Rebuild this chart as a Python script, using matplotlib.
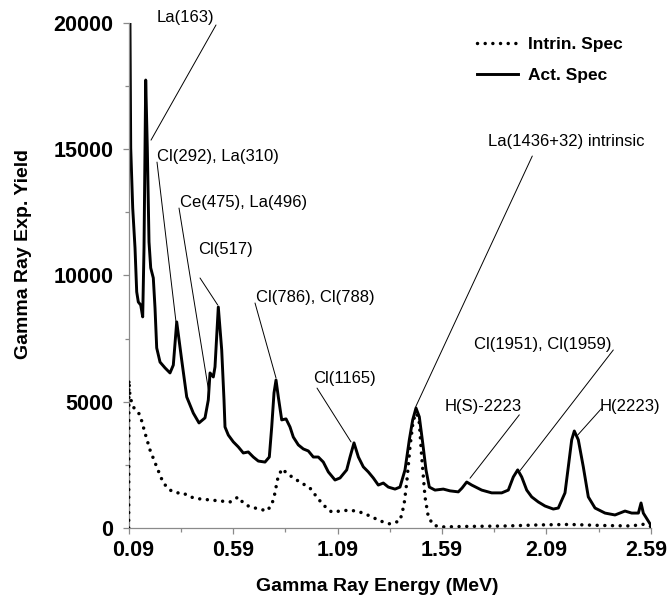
import matplotlib
matplotlib.use('Agg')
import matplotlib.pyplot as plt
from matplotlib.ticker import MultipleLocator
from matplotlib.font_manager import FontProperties
from matplotlib.transforms import ScaledTranslation

# ---------------- data ----------------
act_energy = [0.096, 0.0996, 0.1092, 0.1202, 0.1283, 0.136, 0.1475, 0.157, 0.1633, 0.1714,
              0.1791, 0.1872, 0.1954, 0.2078, 0.216, 0.2241, 0.24, 0.2639, 0.2878, 0.3036,
              0.3199, 0.3438, 0.3678, 0.3994, 0.4267, 0.4554, 0.4712, 0.4794, 0.4952, 0.5033,
              0.5191, 0.5354, 0.5464, 0.5512, 0.567, 0.591, 0.6149, 0.6388, 0.6628, 0.6867,
              0.7107, 0.7428, 0.7634, 0.7749, 0.7859, 0.7955, 0.8065, 0.8228, 0.8434, 0.8625,
              0.8783, 0.9023, 0.9262, 0.9502, 0.9741, 0.9981, 1.022, 1.046, 1.078, 1.102,
              1.134, 1.15, 1.169, 1.19, 1.2136, 1.2375, 1.2615, 1.2854, 1.3094, 1.3333,
              1.3654, 1.3893, 1.4133, 1.4339, 1.4501, 1.4659, 1.4818, 1.498, 1.5138, 1.5297,
              1.5569, 1.5967, 1.6288, 1.6685, 1.6863, 1.7088, 1.7327, 1.7806, 1.8285, 1.8764,
              1.908, 1.932, 1.953, 1.9722, 1.9962, 2.0201, 2.0517, 2.0838, 2.1235, 2.1475,
              2.1795, 2.1954, 2.2116, 2.2241, 2.2433, 2.2672, 2.2912, 2.3233, 2.3712, 2.419,
              2.4669, 2.499, 2.531, 2.5437, 2.5546, 2.59]
act_yield = [20000, 15050, 12670, 11090, 9350, 8950, 8830, 8360, 11090, 17740,
             15050, 11330, 10300, 9900, 8710, 7130, 6570, 6340, 6140, 6450,
             8160, 6650, 5190, 4550, 4160, 4360, 5070, 6140, 5980, 6380,
             8750, 7050, 5070, 4000, 3680, 3410, 3210, 2970, 3010, 2810,
             2650, 2610, 2810, 4000, 5350, 5860, 5190, 4280, 4320, 4000,
             3600, 3290, 3130, 3050, 2810, 2810, 2610, 2220, 1900, 1980,
             2300, 2810, 3370, 2810, 2420, 2220, 1980, 1700, 1780, 1620,
             1540, 1620, 2300, 3490, 4280, 4750, 4400, 3370, 2300, 1620,
             1500, 1540, 1470, 1430, 1580, 1820, 1700, 1500, 1390, 1390,
             1500, 2020, 2300, 2020, 1500, 1230, 1030, 870, 750, 790,
             1390, 2420, 3490, 3840, 3490, 2420, 1230, 790, 590, 515,
             670, 590, 590, 990, 590, 120]

intr_energy = [0.09, 0.091, 0.0962, 0.112, 0.1441, 0.1681, 0.192, 0.2241, 0.2557, 0.2878,
               0.3199, 0.35, 0.3836, 0.4315, 0.4794, 0.5273, 0.5752, 0.6149, 0.6388, 0.671,
               0.7188, 0.7509, 0.7749, 0.7907, 0.8017, 0.8228, 0.8467, 0.8783, 0.9185, 0.9583,
               0.9904, 1.022, 1.0622, 1.102, 1.1499, 1.1978, 1.2457, 1.2936, 1.3414, 1.3893,
               1.4085, 1.4214, 1.4372, 1.453, 1.4693, 1.4818, 1.4933, 1.5091, 1.5249, 1.5488,
               1.5809, 1.7, 1.9, 2.05, 2.2, 2.35, 2.5, 2.55, 2.59]
intr_yield = [0, 5860, 5190, 4790, 4480, 3760, 3090, 2420, 1780, 1500,
              1390, 1390, 1230, 1150, 1110, 1070, 1030, 1230, 990, 830,
              750, 670, 910, 1390, 1900, 2340, 2180, 1980, 1780, 1580,
              1230, 910, 630, 670, 710, 630, 475, 280, 160, 280,
              910, 1780, 3210, 4280, 4550, 4160, 2810, 1230, 440, 120,
              40, 60, 80, 120, 140, 100, 80, 150, 60]

series_labels = ['Intrin. Spec', 'Act. Spec']
xtick_values = [0.09, 0.59, 1.09, 1.59, 2.09, 2.59]
xtick_labels = ['0.09', '0.59', '1.09', '1.59', '2.09', '2.59']
ytick_values = [0, 5000, 10000, 15000, 20000]
ytick_labels = ['0', '5000', '10000', '15000', '20000']
x_title = 'Gamma Ray Energy (MeV)'
y_title = 'Gamma Ray Exp. Yield'

peak_labels = ['La(163)', 'Cl(292), La(310)', 'Ce(475), La(496)', 'Cl(517)',
               'Cl(786), Cl(788)', 'Cl(1165)', 'La(1436+32) intrinsic', 'H(S)-2223',
               'Cl(1951), Cl(1959)', 'H(2223)']

# ---------------- layout (annotation placement, data coords) ----------------
label_pos = [(0.2255, 20200), (0.2255, 14730), (0.3357, 12870), (0.4219, 11010),
             (0.6995, 9140), (0.9737, 5900), (1.8094, 15320), (1.6048, 4830),
             (1.7438, 7250), (2.3474, 4800)]
line_start = [(0.5081, 19920), (0.2255, 14490), (0.3309, 12670), (0.4315, 9900),
              (0.6949, 8910), (0.9919, 5540), (2.0229, 14730), (1.9607, 4480),
              (2.4109, 7050), (2.3553, 4740)]
line_end = [(0.1968, 15360), (0.3165, 8160), (0.476, 5270), (0.5162, 8830),
            (0.7955, 5940), (1.1547, 3410), (1.4645, 4800), (1.7246, 1970),
            (1.964, 2270), (2.2404, 3680)]

# ---------------- plot ----------------
FAM = ['Liberation Sans', 'DejaVu Sans']
plt.rcParams['font.family'] = FAM

fig = plt.figure(figsize=(6.7, 5.98), dpi=100)
ax = fig.add_axes([0.1921, 0.1171, 0.7791, 0.8445])

h_intr, = ax.plot(intr_energy, intr_yield, color='black', lw=2.5,
                  linestyle=(0, (0.01, 2.2)), dash_capstyle='round',
                  label=series_labels[0], zorder=3)
h_act, = ax.plot(act_energy, act_yield, color='black', lw=2.1,
                 solid_joinstyle='round', label=series_labels[1], zorder=2)

ax.set_xlim(0.09, 2.59)
ax.set_ylim(0, 20000)

for s in ['top', 'right']:
    ax.spines[s].set_visible(False)
for s in ['left', 'bottom']:
    ax.spines[s].set_color('#8a8a8a')
    ax.spines[s].set_linewidth(0.9)

ax.set_xticks(xtick_values, labels=xtick_labels, fontsize=15.5, fontweight='bold')
ax.set_yticks(ytick_values, labels=ytick_labels, fontsize=15.5, fontweight='bold')
ax.xaxis.set_minor_locator(MultipleLocator(0.25, offset=0.09))
ax.yaxis.set_minor_locator(MultipleLocator(2500))
ax.tick_params(axis='both', which='both', direction='out', color='#8a8a8a', width=0.9)
ax.tick_params(axis='both', which='major', length=4)
ax.tick_params(axis='both', which='minor', length=3)
ax.tick_params(axis='x', which='major', pad=5)
ax.tick_params(axis='y', which='major', pad=7)

# nudge the outermost x tick labels inward (as in the reference)
xlabels = ax.get_xticklabels()
xlabels[0].set_transform(xlabels[0].get_transform() + ScaledTranslation(3 / 72, 0, fig.dpi_scale_trans))
xlabels[-1].set_transform(xlabels[-1].get_transform() + ScaledTranslation(-3.5 / 72, 0, fig.dpi_scale_trans))

ax.set_xlabel(x_title, fontsize=14, fontweight='bold')
ax.xaxis.set_label_coords(0.4766, -0.116)
ax.xaxis.label.set_va('center')
ax.set_ylabel(y_title, fontsize=14, fontweight='bold')
ax.yaxis.set_label_coords(-0.2006, 0.5426)
ax.yaxis.label.set_va('center')

for txt, pos, p0, p1 in zip(peak_labels, label_pos, line_start, line_end):
    ax.text(pos[0], pos[1], txt, fontsize=12, ha='left', va='center',
            color='black', clip_on=False)
    ax.annotate('', xy=p1, xytext=p0,
                arrowprops=dict(arrowstyle='-', lw=0.7, color='black',
                                shrinkA=0, shrinkB=0),
                annotation_clip=False)

ax.legend(handles=[h_intr, h_act], loc='upper left', bbox_to_anchor=(0.6667, 0.972),
          frameon=False, prop=FontProperties(family=FAM, weight='bold', size=12.5),
          handlelength=2.4, handletextpad=0.55, labelspacing=0.9,
          borderpad=0, borderaxespad=0)

fig.savefig('out.png', dpi=100)
